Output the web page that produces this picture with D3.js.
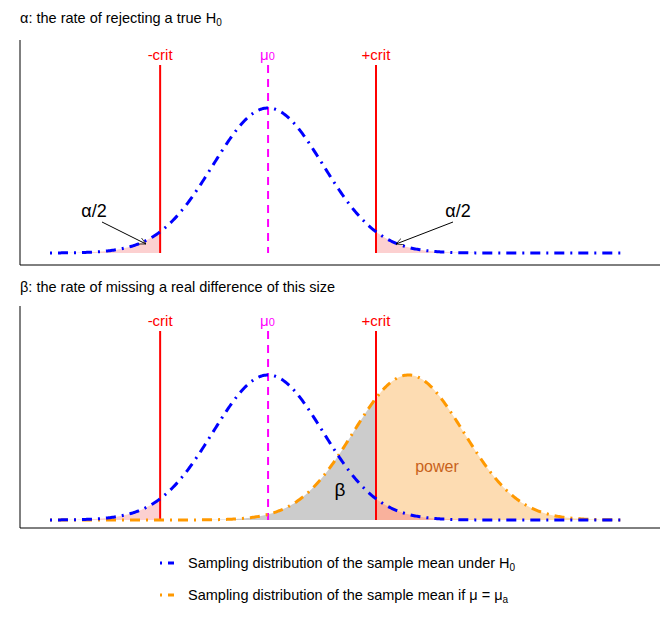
<!DOCTYPE html><html><head><meta charset="utf-8">
<script src="https://cdn.jsdelivr.net/npm/d3@7"></script>
<style>body{margin:0;background:#fff}text{font-family:"Liberation Sans",Arial,sans-serif}</style></head><body>
<svg id="c" width="672" height="633"></svg>
<script>
const domainZ=[-3.96,6.5];
const crit=[-1.96,1.96];
const mu0=[0];
const muA=[2.55];
const titles=["α: the rate of rejecting a true H","β: the rate of missing a real difference of this size"];
const legendLabels=["Sampling distribution of the sample mean under H","Sampling distribution of the sample mean if μ = μ"];
const svg=d3.select("#c");
const x=d3.scaleLinear().domain(domainZ).range([50,626]);
const dn=(z,m)=>Math.exp(-0.5*(z-m)*(z-m))/Math.sqrt(2*Math.PI);
const grid=d3.range(0,501).map(i=>domainZ[0]+(domainZ[1]-domainZ[0])*i/500);
const panels=[{top:40,bot:265,base:253,peak:108,title:23,lab:60,lt:65},{top:306,bot:528,base:520,peak:375,title:292,lab:326,lt:331}];
const dash="2,6,10,6";
panels.forEach((p,pi)=>{
 const y=d3.scaleLinear().domain([0,dn(0,0)]).range([p.base,p.peak]);
 const g=svg.append("g");
 const area=(m,lo,hi,col)=>{const pts=grid.filter(z=>z>=lo&&z<=hi);pts.unshift(lo);pts.push(hi);
   g.append("path").attr("d",d3.area().x(z=>x(z)).y0(y(0)).y1(z=>y(dn(z,m)))(pts)).attr("fill",col);};
 const line=(m,col)=>g.append("path").attr("d",d3.line().x(z=>x(z)).y(z=>y(dn(z,m)))(grid)).attr("fill","none").attr("stroke",col).attr("stroke-width",3).attr("stroke-dasharray",dash);
 if(pi==1){area(muA[0],domainZ[0],crit[1],"#cccccc");area(muA[0],crit[1],domainZ[1],"#fddcb2");}
 area(mu0[0],domainZ[0],crit[0],"#fcd0d0");
 area(mu0[0],crit[1],domainZ[1],pi==1?"#f9b19c":"#fcd0d0");
 g.append("line").attr("x1",20).attr("x2",20).attr("y1",p.top).attr("y2",p.bot).attr("stroke","#000");
 g.append("line").attr("x1",20).attr("x2",660).attr("y1",p.bot).attr("y2",p.bot).attr("stroke","#000");
 const t=g.append("text").attr("x",20).attr("y",p.title).attr("font-size",14.5).text(titles[pi]);
 if(pi==0) t.append("tspan").attr("font-size",10).attr("dy",3).text("0");
 crit.forEach((c,i)=>{
  g.append("line").attr("x1",x(c)).attr("x2",x(c)).attr("y1",p.lt).attr("y2",p.base).attr("stroke","red").attr("stroke-width",2);
  g.append("text").attr("x",x(c)).attr("y",p.lab).attr("text-anchor","middle").attr("fill","red").attr("font-size",15).text(i?"+crit":"-crit");
 });
 g.append("line").attr("x1",x(mu0[0])).attr("x2",x(mu0[0])).attr("y1",p.lt).attr("y2",p.base).attr("stroke","#ff00ff").attr("stroke-width",2).attr("stroke-dasharray","8,6");
 const mt=g.append("text").attr("x",x(mu0[0])-8).attr("y",p.lab).attr("fill","#ff00ff").attr("font-size",15).text("μ");
 mt.append("tspan").attr("font-size",11).attr("dy",0).text("0");
 if(pi==1) line(muA[0],"#ff9900");
 line(mu0[0],"#0000ff");
 if(pi==0){
  const a=g.append("g").attr("stroke","#000");
  svg.append("defs").append("marker").attr("id","ah").attr("viewBox","0 0 10 10").attr("refX",10).attr("refY",5).attr("markerWidth",7).attr("markerHeight",7).attr("orient","auto").append("path").attr("d","M0,0L10,5L0,10").attr("fill","none").attr("stroke","#000");
  a.append("line").attr("x1",102).attr("y1",222).attr("x2",146).attr("y2",244).attr("marker-end","url(#ah)");
  a.append("line").attr("x1",453).attr("y1",222).attr("x2",396).attr("y2",244).attr("marker-end","url(#ah)");
  g.append("text").attr("x",94).attr("y",217).attr("font-size",18).attr("text-anchor","middle").text("α/2");
  g.append("text").attr("x",458).attr("y",217).attr("font-size",18).attr("text-anchor","middle").text("α/2");
 } else {
  g.append("text").attr("x",437).attr("y",472).attr("font-size",16).attr("text-anchor","middle").attr("fill","#c8621a").text("power");
  g.append("text").attr("x",340).attr("y",496).attr("font-size",19).attr("text-anchor","middle").text("β");
 }
});
const cols=["#0000ff","#ff9900"];
legendLabels.forEach((l,i)=>{
 const yy=568+i*32;
 svg.append("line").attr("x1",160).attr("x2",180).attr("y1",yy-5).attr("y2",yy-5).attr("stroke",cols[i]).attr("stroke-width",3).attr("stroke-dasharray","2,6,6,6");
 const t=svg.append("text").attr("x",188).attr("y",yy).attr("font-size",14.5).text(l);
 t.append("tspan").attr("font-size",10).attr("dy",3).text(i?"a":"0");
});
</script></body></html>
